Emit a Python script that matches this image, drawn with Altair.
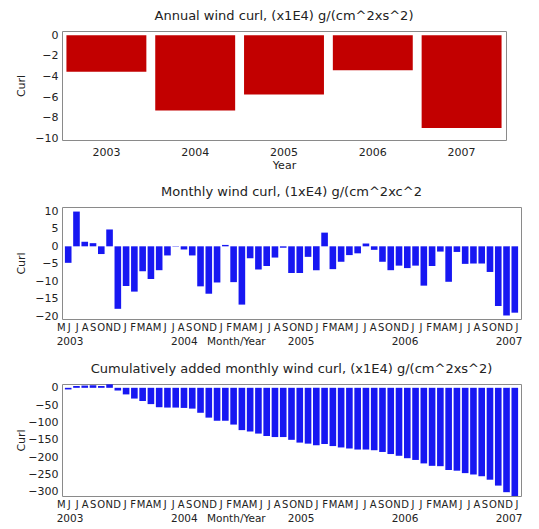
import altair as alt
import pandas as pd

# ---------------- data ----------------
years = ["2003", "2004", "2005", "2006", "2007"]
annual_curl = [-3.55, -7.3, -5.75, -3.4, -9.0]

# 55 months, May 2003 .. Nov 2007
month_names = pd.date_range("2003-05-01", periods=55, freq="MS").strftime("%Y-%m").tolist()

monthly_curl = [
    -4.7, 9.9, 1.3, 0.9, -2.2, 4.8, -17.8, -11.3,
    -12.9, -7.1, -9.3, -6.8, -2.6, -0.1, -0.9, -2.6, -11.4, -13.5, -10.3, 0.4,
    -10.2, -16.6, -3.4, -6.6, -5.6, -3.2, -0.4, -7.6, -7.6, -3.0, -6.8, 3.9,
    -6.5, -4.4, -2.5, -2.0, 0.8, -1.0, -4.4, -6.8, -5.5, -6.2, -5.5, -11.2,
    -5.6, -1.5, -10.1, -1.6, -5.0, -4.9, -4.9, -7.3, -17.0, -19.7, -18.9,
]

cumulative_curl = [
    -4.7, 5.2, 6.5, 7.4, 5.2, 10.0, -7.8, -19,
    -31, -38, -47, -56, -57, -57, -58, -60, -72, -86, -95, -95,
    -106, -122, -126, -132, -139, -142, -142, -150, -158, -161, -166, -162,
    -168, -172, -175, -178, -178, -180, -185, -191, -196, -203, -208, -218,
    -225, -226, -237, -239, -246, -250, -255, -265, -282, -301, -320,
]

# tick letters as printed under the monthly panels
month_letters = list("MJJASOND" "JFMAMJJASOND" "JFMAMJJASOND" "JFMAMJJASOND" "JJFMAMJJASONDJ")
# second row of the monthly x axis: text and the letter slot it sits under
year_row_text = ["2003", "2004", "Month/Year", "2005", "2006", "2007"]
year_row_slot = [1.1, 15.4, 21.9, 30, 43, 56]

annual_ticks = [0, -2, -4, -6, -8, -10]
monthly_ticks = [10, 5, 0, -5, -10, -15, -20]
cumul_ticks = [0, -50, -100, -150, -200, -250, -300]

# ---------------- style ----------------
FONT = "DejaVu Sans"
RED = "#c20000"
BLUE = "#1717f2"
TXT = "#222222"
W_TOP, H_TOP = 444, 109
W_M, H_M = 459, 112

yaxis_common = dict(
    title="Curl", ticks=False, domain=False, grid=False, labelPadding=4,
    minExtent=30, maxExtent=30, titlePadding=6, format="d",
)

# ---------------- top panel ----------------
annual_df = pd.DataFrame({"year": years, "curl": annual_curl})
top = alt.Chart(annual_df).mark_bar(color=RED).encode(
    x=alt.X("year:N", sort=None,
            scale=alt.Scale(paddingInner=0.1, paddingOuter=0.05),
            axis=alt.Axis(title="Year", labelAngle=0, ticks=False, domain=False,
                          labelPadding=6, titlePadding=2)),
    y=alt.Y("curl:Q", scale=alt.Scale(domain=[-10.15, 0.4], nice=False),
            axis=alt.Axis(values=annual_ticks, **yaxis_common)),
).properties(width=W_TOP, height=H_TOP,
             title="Annual wind curl, (x1E4) g/(cm^2xs^2)")


def monthly_panel(values, title, domain, ticks):
    df = pd.DataFrame({"month": month_names, "curl": values})
    bars = alt.Chart(df).mark_bar(color=BLUE, clip=True).encode(
        x=alt.X("month:N", sort=None, axis=None,
                scale=alt.Scale(paddingInner=0.2, paddingOuter=0.35)),
        y=alt.Y("curl:Q", scale=alt.Scale(domain=domain, nice=False),
                axis=alt.Axis(values=ticks, **yaxis_common)),
    )
    ldf = pd.DataFrame({"slot": list(range(len(month_letters))), "t": month_letters})
    letters = alt.Chart(ldf).mark_text(
        font=FONT, fontSize=10, baseline="middle", align="center", color=TXT
    ).encode(
        x=alt.X("slot:Q", scale=alt.Scale(domain=[0.1, 57.5], nice=False, zero=False), axis=None),
        y=alt.value(H_M + 9),
        text="t:N",
    )
    ydf = pd.DataFrame({"slot": year_row_slot, "t": year_row_text})
    yrow = alt.Chart(ydf).mark_text(
        font=FONT, fontSize=10.5, baseline="middle", align="center", color=TXT
    ).encode(
        x=alt.X("slot:Q", scale=alt.Scale(domain=[0.1, 57.5], nice=False, zero=False), axis=None),
        y=alt.value(H_M + 23),
        text="t:N",
    )
    return alt.layer(bars, letters, yrow).resolve_scale(x="independent").properties(
        width=W_M, height=H_M, title=title)


mid = monthly_panel(monthly_curl, "Monthly wind curl, (1xE4) g/(cm^2xc^2",
                    [-20.7, 11.2], monthly_ticks)
bot = monthly_panel(cumulative_curl,
                    "Cumulatively added monthly wind curl, (x1E4) g/(cm^2xs^2)",
                    [-312, 11], cumul_ticks)

chart = alt.vconcat(top, mid, bot, spacing=14).properties(
    padding={"left": 6, "top": 1, "right": 4, "bottom": 0}
).configure(
    font=FONT,
).configure_view(
    stroke="#8a8a8a", strokeWidth=1
).configure_title(
    font=FONT, fontSize=13, fontWeight="normal", color=TXT, offset=6, anchor="middle"
).configure_axis(
    labelFont=FONT, titleFont=FONT, labelFontSize=11, titleFontSize=11,
    titleFontWeight="normal", labelColor=TXT, titleColor=TXT,
)

chart.save("out.html", embed_options={"renderer": "svg", "actions": False})
